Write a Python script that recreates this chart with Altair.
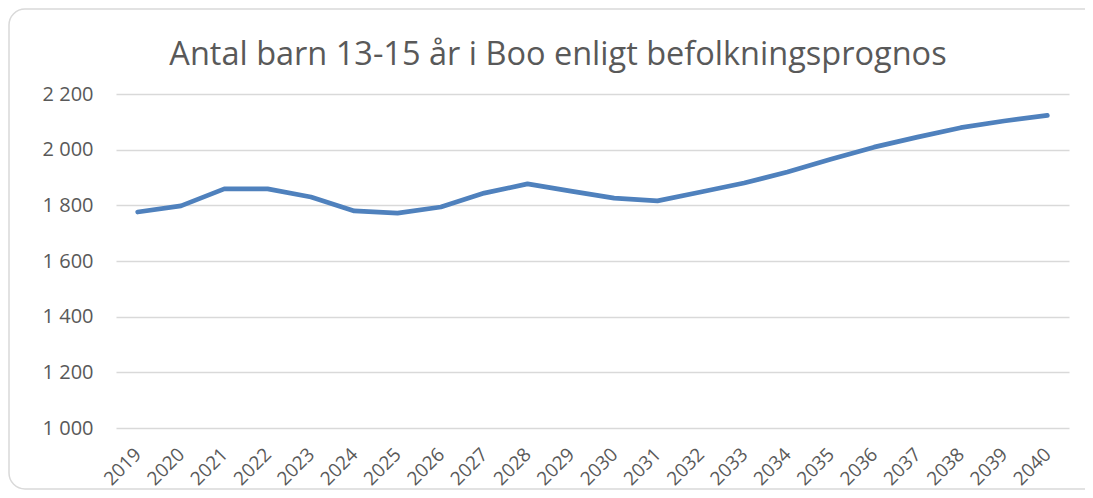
import altair as alt
import pandas as pd

years = [str(y) for y in range(2019, 2041)]
values = [1776, 1798, 1859, 1859, 1830, 1780, 1772, 1794, 1844, 1877, 1851, 1826,
          1816, 1848, 1880, 1920, 1966, 2009, 2045, 2079, 2103, 2123]
y_ticks = [1000, 1200, 1400, 1600, 1800, 2000, 2200]
title_text = "Antal barn 13-15 år i Boo enligt befolkningsprognos"

df = pd.DataFrame({"year": years, "value": values})

FONT = "Open Sans"
GREY = "#595959"

line = alt.Chart(df).mark_line(color="#4F81BD", strokeWidth=4.7, strokeCap="round",
                               strokeJoin="round").encode(
    x=alt.X("year:N", sort=years, title=None,
            scale=alt.Scale(type="point", padding=0.5),
            axis=alt.Axis(labelAngle=-45, labelAlign="right", labelBaseline="middle",
                          labelPadding=23, ticks=False, domain=False, grid=False,
                          labelFont=FONT, labelFontSize=19, labelColor=GREY)),
    y=alt.Y("value:Q", title=None,
            scale=alt.Scale(domain=[1000, 2200], nice=False, zero=False),
            axis=alt.Axis(values=y_ticks, ticks=False, domain=False, grid=True,
                          gridColor="#D9D9D9", gridWidth=1.3, labelPadding=23,
                          labelExpr="replace(format(datum.value, ','), ',', ' ')",
                          labelFont=FONT, labelFontSize=20, labelColor=GREY)),
)

base1 = alt.Chart(df).transform_filter(alt.datum.year == "2019")

border = base1.mark_rect(fill=None, stroke="#D9D9D9", strokeWidth=1.5,
                         cornerRadius=16).encode(
    x=alt.value(-107), x2=alt.value(990), y=alt.value(-85), y2=alt.value(395)
)

title = base1.mark_text(text=title_text, font=FONT, fontSize=32.5, color=GREY,
                        align="center", baseline="alphabetic").encode(
    x=alt.value(442), y=alt.value(-29.5)
)

chart = alt.layer(border, line, title).properties(
    width=953, height=334,
    autosize=alt.AutoSizeParams(type="none"),
    padding={"left": 108, "top": 86, "right": 16, "bottom": 62},
).configure(background="white").configure_view(stroke=None)

chart.save("out.html", embed_options={"renderer": "svg", "actions": False})
